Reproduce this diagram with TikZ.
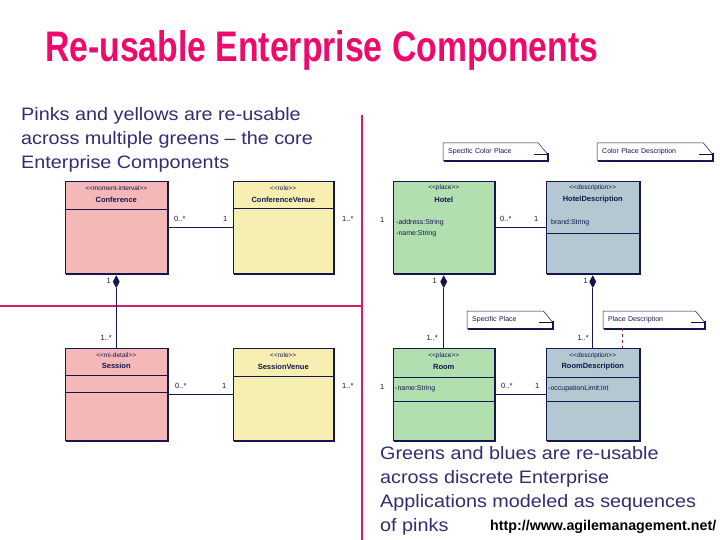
\documentclass[tikz,border=0pt]{standalone}
\usepackage{fontspec}
\setmainfont{Liberation Sans}
\newfontfamily\bodyfont[FakeStretch=1.1]{Liberation Sans}
\usetikzlibrary{shapes.geometric}
\definecolor{pinkbox}{HTML}{F5B8B8}
\definecolor{yellowbox}{HTML}{F7EFB1}
\definecolor{greenbox}{HTML}{B2DFB0}
\definecolor{bluebox}{HTML}{B3C8D0}
\definecolor{navy}{HTML}{15154F}
\definecolor{divider}{HTML}{D81A60}
\definecolor{titlec}{HTML}{EE0A6C}
\definecolor{textc}{HTML}{2F2F6F}
\definecolor{dashc}{HTML}{8B1A3A}
\newcommand\boxshadow[1]{\draw[shad] ([xshift=0.8pt,yshift=-0.2pt]#1.north east) -- ([xshift=0.8pt,yshift=-0.8pt]#1.south east) -- ([xshift=0.6pt,yshift=-0.8pt]#1.south west);}
\newcommand\umlnote[1]{%
  \fill[white] (#1.north west) -- ([xshift=-9pt]#1.north east) -- ([yshift=-11pt]#1.north east) -- (#1.south east) -- (#1.south west) -- cycle;
  \draw[noteline] (#1.north west) -- ([xshift=-9pt]#1.north east) -- ([yshift=-11pt]#1.north east) -- (#1.south east) -- (#1.south west) -- cycle;
  \draw[noteline] ([xshift=-13pt,yshift=-11pt]#1.north east) -- ([yshift=-11pt]#1.north east);
  \draw[shad] ([xshift=0.8pt,yshift=-10pt]#1.north east) -- ([xshift=0.8pt,yshift=-0.8pt]#1.south east) -- ([xshift=0.6pt,yshift=-0.8pt]#1.south west);}
\newcommand\stl{<{}<}
\newcommand\str{>{}>}
\begin{document}
\begin{tikzpicture}[x=1pt,y=-1pt,
  cls/.style={draw=navy, line width=0.5pt, anchor=north west, inner sep=0pt, minimum width=#1},
  cls/.default=102pt,
  shad/.style={navy, line width=1.5pt},
  sep/.style={navy, line width=0.5pt},
  stereo/.style={font=\fontsize{6.5}{7}\selectfont, text=navy, inner sep=0pt},
  cname/.style={font=\fontsize{7.5}{8}\selectfont\bfseries, text=navy, inner sep=0pt},
  attr/.style={font=\fontsize{7}{8}\selectfont, text=navy, inner sep=0pt, anchor=west},
  mult/.style={font=\fontsize{7.5}{8}\selectfont, text=navy, inner sep=0pt},
  assoc/.style={navy, line width=0.8pt},
  notetext/.style={anchor=north west, inner xsep=5pt, inner ysep=0pt, minimum height=17pt, font=\fontsize{7}{7}\selectfont, text=navy},
  noteline/.style={navy, line width=0.5pt},
  diam/.style={diamond, fill=navy, inner sep=0pt, minimum width=7pt, minimum height=13pt},
  body/.style={font=\bodyfont\fontsize{18}{24}\selectfont, text=textc, inner sep=0pt, anchor=base west},
  divline/.style={divider, line width=2.8pt}
]
\useasboundingbox (0,0) rectangle (720,540);
\fill[white] (0,0) rectangle (720,540);

% title
\node[anchor=base west, inner sep=0pt, text=titlec] (title) at (45,62)
  {\resizebox{553pt}{31pt}{\bfseries Re-usable Enterprise Components}};

% left text
\node[body] (lt1) at (21,121) {Pinks and yellows are re-usable};
\node[body] (lt2) at (21,145) {across multiple greens – the core};
\node[body] (lt3) at (21,169) {Enterprise Components};

% dividers
\coordinate (dtop) at (362,115);
\coordinate (dbot) at (362,540);
\coordinate (dleft) at (0,306);
\coordinate (dmid) at (362,306);
\draw[divline] (dtop) -- (dbot);
\draw[divline] (dleft) -- (dmid);

% ---------- left classes ----------
\node[cls, fill=pinkbox, minimum height=92pt] (conf) at (65,181) {};
\boxshadow{conf}
\draw[sep] ([yshift=-28pt]conf.north west) -- ([yshift=-28pt]conf.north east);
\node[stereo] at ([yshift=-7pt]conf.north) {\stl moment-interval\str};
\node[cname] at ([yshift=-18.5pt]conf.north) {Conference};

\node[cls=100pt, fill=yellowbox, minimum height=92pt] (cven) at (233,181) {};
\boxshadow{cven}
\draw[sep] ([yshift=-27pt]cven.north west) -- ([yshift=-27pt]cven.north east);
\node[stereo] at ([yshift=-7pt]cven.north) {\stl role\str};
\node[cname] at ([yshift=-18.5pt]cven.north) {ConferenceVenue};

\node[cls, fill=pinkbox, minimum height=92pt] (sess) at (65,348) {};
\boxshadow{sess}
\draw[sep] ([yshift=-27pt]sess.north west) -- ([yshift=-27pt]sess.north east);
\draw[sep] ([yshift=-44pt]sess.north west) -- ([yshift=-44pt]sess.north east);
\node[stereo] at ([yshift=-7pt]sess.north) {\stl mi-detail\str};
\node[cname] at ([yshift=-18pt]sess.north) {Session};

\node[cls=100pt, fill=yellowbox, minimum height=92pt] (sven) at (233,348) {};
\boxshadow{sven}
\draw[sep] ([yshift=-28pt]sven.north west) -- ([yshift=-28pt]sven.north east);
\node[stereo] at ([yshift=-7pt]sven.north) {\stl role\str};
\node[cname] at ([yshift=-18.5pt]sven.north) {SessionVenue};

% left connectors
\draw[assoc] (conf.east) -- (cven.west);
\node[mult, anchor=west] at (174,219) {0..*};
\node[mult, anchor=west] at (223,219) {1};
\node[mult, anchor=west] at (342,219) {1..*};

\node[diam, anchor=north] (d1) at ([yshift=-1.5pt]conf.south) {};
\draw[assoc] (d1.south) -- (sess.north);
\node[mult, anchor=east] at (111,281) {1};
\node[mult, anchor=east] at (112,338) {1..*};

\draw[assoc] (sess.east) -- (sven.west);
\node[mult, anchor=west] at (175,386) {0..*};
\node[mult, anchor=west] at (222,386) {1};
\node[mult, anchor=west] at (342,386) {1..*};

% ---------- right classes ----------
\node[cls=101pt, fill=greenbox, minimum height=92pt] (hotel) at (393,181) {};
\boxshadow{hotel}
\node[stereo] at ([yshift=-7pt]hotel.north) {\stl place\str};
\node[cname] at ([yshift=-19pt]hotel.north) {Hotel};
\node[attr] at ([xshift=3pt,yshift=-42pt]hotel.north west) {-address:String};
\node[attr] at ([xshift=3pt,yshift=-53pt]hotel.north west) {-name:String};

\node[cls=93pt, fill=bluebox, minimum height=92pt] (hdesc) at (546,181) {};
\boxshadow{hdesc}
\draw[sep] ([yshift=-52pt]hdesc.north west) -- ([yshift=-52pt]hdesc.north east);
\node[stereo] at ([yshift=-7pt]hdesc.north) {\stl description\str};
\node[cname] at ([yshift=-19pt]hdesc.north) {HotelDescription};
\node[attr] at ([xshift=5pt,yshift=-42pt]hdesc.north west) {brand:String};

\node[cls=101pt, fill=greenbox, minimum height=92pt] (room) at (393,348) {};
\boxshadow{room}
\draw[sep] ([yshift=-29pt]room.north west) -- ([yshift=-29pt]room.north east);
\draw[sep] ([yshift=-53pt]room.north west) -- ([yshift=-53pt]room.north east);
\node[stereo] at ([yshift=-8pt]room.north) {\stl place\str};
\node[cname] at ([yshift=-19pt]room.north) {Room};
\node[attr] at ([xshift=2pt,yshift=-41pt]room.north west) {-name:String};

\node[cls=93pt, fill=bluebox, minimum height=92pt] (rdesc) at (546,348) {};
\boxshadow{rdesc}
\draw[sep] ([yshift=-29pt]rdesc.north west) -- ([yshift=-29pt]rdesc.north east);
\draw[sep] ([yshift=-53pt]rdesc.north west) -- ([yshift=-53pt]rdesc.north east);
\node[stereo] at ([yshift=-8pt]rdesc.north) {\stl description\str};
\node[cname] at ([yshift=-19pt]rdesc.north) {RoomDescription};
\node[attr] at ([xshift=2pt,yshift=-41pt]rdesc.north west) {-occupationLimit:int};

% right connectors
\node[mult, anchor=west] at (380,220) {1};
\draw[assoc] (hotel.east) -- (hdesc.west);
\node[mult, anchor=west] at (500,219) {0..*};
\node[mult, anchor=west] at (534,219) {1};

\node[diam, anchor=north] (d2) at ([yshift=-1.5pt]hotel.south) {};
\draw[assoc] (d2.south) -- (room.north);
\node[mult, anchor=east] at (437,281) {1};
\node[mult, anchor=east] at (438,338) {1..*};

\node[diam, anchor=north] (d3) at ([yshift=-1.5pt]hdesc.south) {};
\draw[assoc] (d3.south) -- (rdesc.north);
\node[mult, anchor=east] at (588,281) {1};
\node[mult, anchor=east] at (589,338) {1..*};

\node[mult, anchor=west] at (380,387) {1};
\draw[assoc] (room.east) -- (rdesc.west);
\node[mult, anchor=west] at (501,386) {0..*};
\node[mult, anchor=west] at (535,386) {1};

% notes
\node[notetext, text width=94pt] (n1) at (443,143) {Specific Color Place};
\umlnote{n1}
\node[notetext, text width=94pt] (n1) at (443,143) {Specific Color Place};
\node[notetext, text width=105pt] (n2) at (597,143) {Color Place Description};
\umlnote{n2}
\node[notetext, text width=105pt] (n2) at (597,143) {Color Place Description};
\node[notetext, text width=75pt] (n3) at (467,311) {Specific Place};
\umlnote{n3}
\node[notetext, text width=75pt] (n3) at (467,311) {Specific Place};
\node[notetext, text width=91pt] (n4) at (603,311) {Place Description};
\umlnote{n4}
\node[notetext, text width=91pt] (n4) at (603,311) {Place Description};
\draw[dashc, dashed, line width=0.8pt] ([xshift=19pt]n4.south west) -- ([xshift=19pt]n4.south west |- rdesc.north);

% right text
\node[body] (rt1) at (380,459) {Greens and blues are re-usable};
\node[body] (rt2) at (380,483) {across discrete Enterprise};
\node[body] (rt3) at (380,507) {Applications modeled as sequences};
\node[body] (rt4) at (380,531) {of pinks};
\node[anchor=base west, inner sep=0pt, text=black] (url) at (490,530)
  {\resizebox{226pt}{!}{\fontsize{12}{14}\selectfont\bfseries http://www.agilemanagement.net/}};
\end{tikzpicture}
\end{document}
